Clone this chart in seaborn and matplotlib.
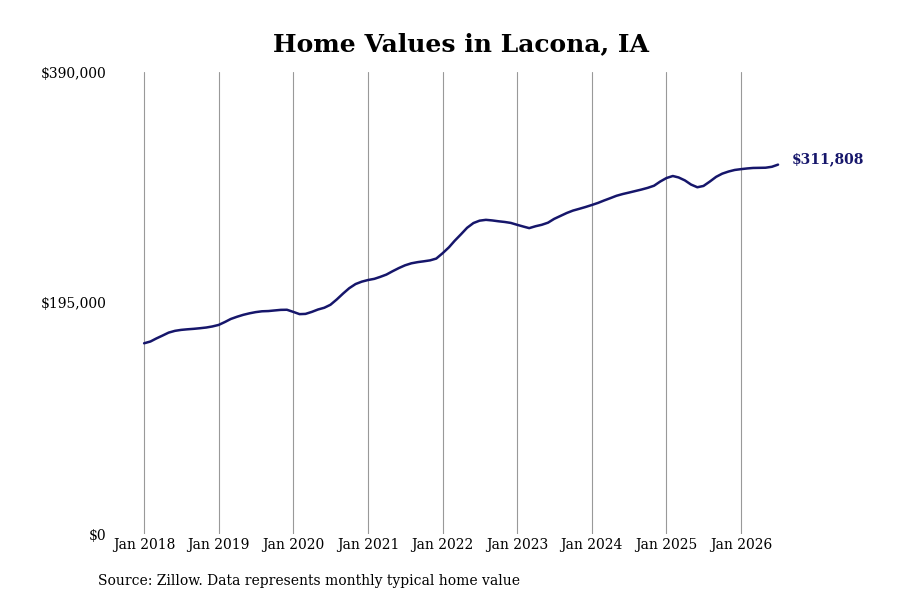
import matplotlib
matplotlib.use('Agg')
import matplotlib.pyplot as plt
import matplotlib.ticker as mticker
import pandas as pd
import seaborn as sns

# monthly typical home value, Jan 2018 .. Jul 2026
values_2018 = [161000, 162500, 165000, 167500, 170000, 171500, 172300, 172800, 173200, 173700, 174300, 175200]
values_2019 = [176500, 179000, 181500, 183400, 185000, 186300, 187300, 188000, 188200, 188700, 189200, 189300]
values_2020 = [187500, 185600, 185800, 187500, 189500, 191000, 193500, 198000, 203000, 207500, 211000, 213000]
values_2021 = [214400, 215400, 217000, 219000, 221800, 224500, 226800, 228500, 229500, 230200, 231000, 232500]
values_2022 = [237000, 242000, 247500, 253000, 258500, 262500, 264500, 265200, 264700, 264000, 263400, 262600]
values_2023 = [261000, 259500, 258200, 259800, 261000, 262800, 266000, 268500, 271000, 273000, 274500, 276000]
values_2024 = [277700, 279500, 281500, 283500, 285500, 287000, 288200, 289500, 290800, 292200, 294000, 297500]
values_2025 = [300500, 302200, 301000, 298500, 295000, 292700, 293800, 297500, 301500, 304200, 306000, 307300]
values_2026 = [308000, 308600, 309000, 309100, 309200, 310000, 311808]

home_values = (values_2018 + values_2019 + values_2020 + values_2021 + values_2022
               + values_2023 + values_2024 + values_2025 + values_2026)
months = pd.date_range('2018-01-01', periods=len(home_values), freq='MS')
tick_years = list(range(2018, 2027))
y_ticks = [0, 195000, 390000]

df = pd.DataFrame({'month': months, 'value': home_values})

line_color = '#16166b'

sns.set_style('white')
plt.rcParams['font.family'] = ['DejaVu Serif']
plt.rcParams['text.color'] = 'black'
plt.rcParams['xtick.color'] = 'black'
plt.rcParams['ytick.color'] = 'black'

fig = plt.figure(figsize=(9, 6), dpi=100)
ax = fig.add_axes([0.1245, 0.11, 0.7645, 0.77])

sns.lineplot(data=df, x='month', y='value', ax=ax, color=line_color, linewidth=1.8)

ax.set_ylim(0, 390000)
ax.set_yticks(y_ticks)
ax.yaxis.set_major_formatter(mticker.FuncFormatter(lambda v, p: f'${v:,.0f}'))

ticks = [pd.Timestamp(f'{y}-01-01') for y in tick_years]
ax.set_xticks(ticks)
ax.set_xticklabels([f'Jan {y}' for y in tick_years])
ax.set_xlim(pd.Timestamp('2018-01-01') - pd.Timedelta(days=157),
            pd.Timestamp('2026-01-01') + pd.Timedelta(days=289))

ax.grid(axis='x', color='#999999', linewidth=0.8)
ax.grid(axis='y', visible=False)
for s in ax.spines.values():
    s.set_visible(False)
ax.tick_params(axis='both', length=0, labelsize=10)
ax.tick_params(axis='y', pad=4)
ax.tick_params(axis='x', pad=3)
ax.set_xlabel('')
ax.set_ylabel('')

last = df.iloc[-1]
ax.annotate(f'${last["value"]:,.0f}', xy=(last['month'], last['value']),
            xytext=(10, 4), textcoords='offset points', va='center', ha='left',
            fontsize=10, fontweight='bold', color=line_color)

fig.text(0.512, 0.927, 'Home Values in Lacona, IA', ha='center', va='center',
         fontsize=18, fontweight='bold', color='black')
fig.text(0.109, 0.031, 'Source: Zillow. Data represents monthly typical home value',
         ha='left', va='center', fontsize=10, color='black')

fig.savefig('out.png', dpi=100)
